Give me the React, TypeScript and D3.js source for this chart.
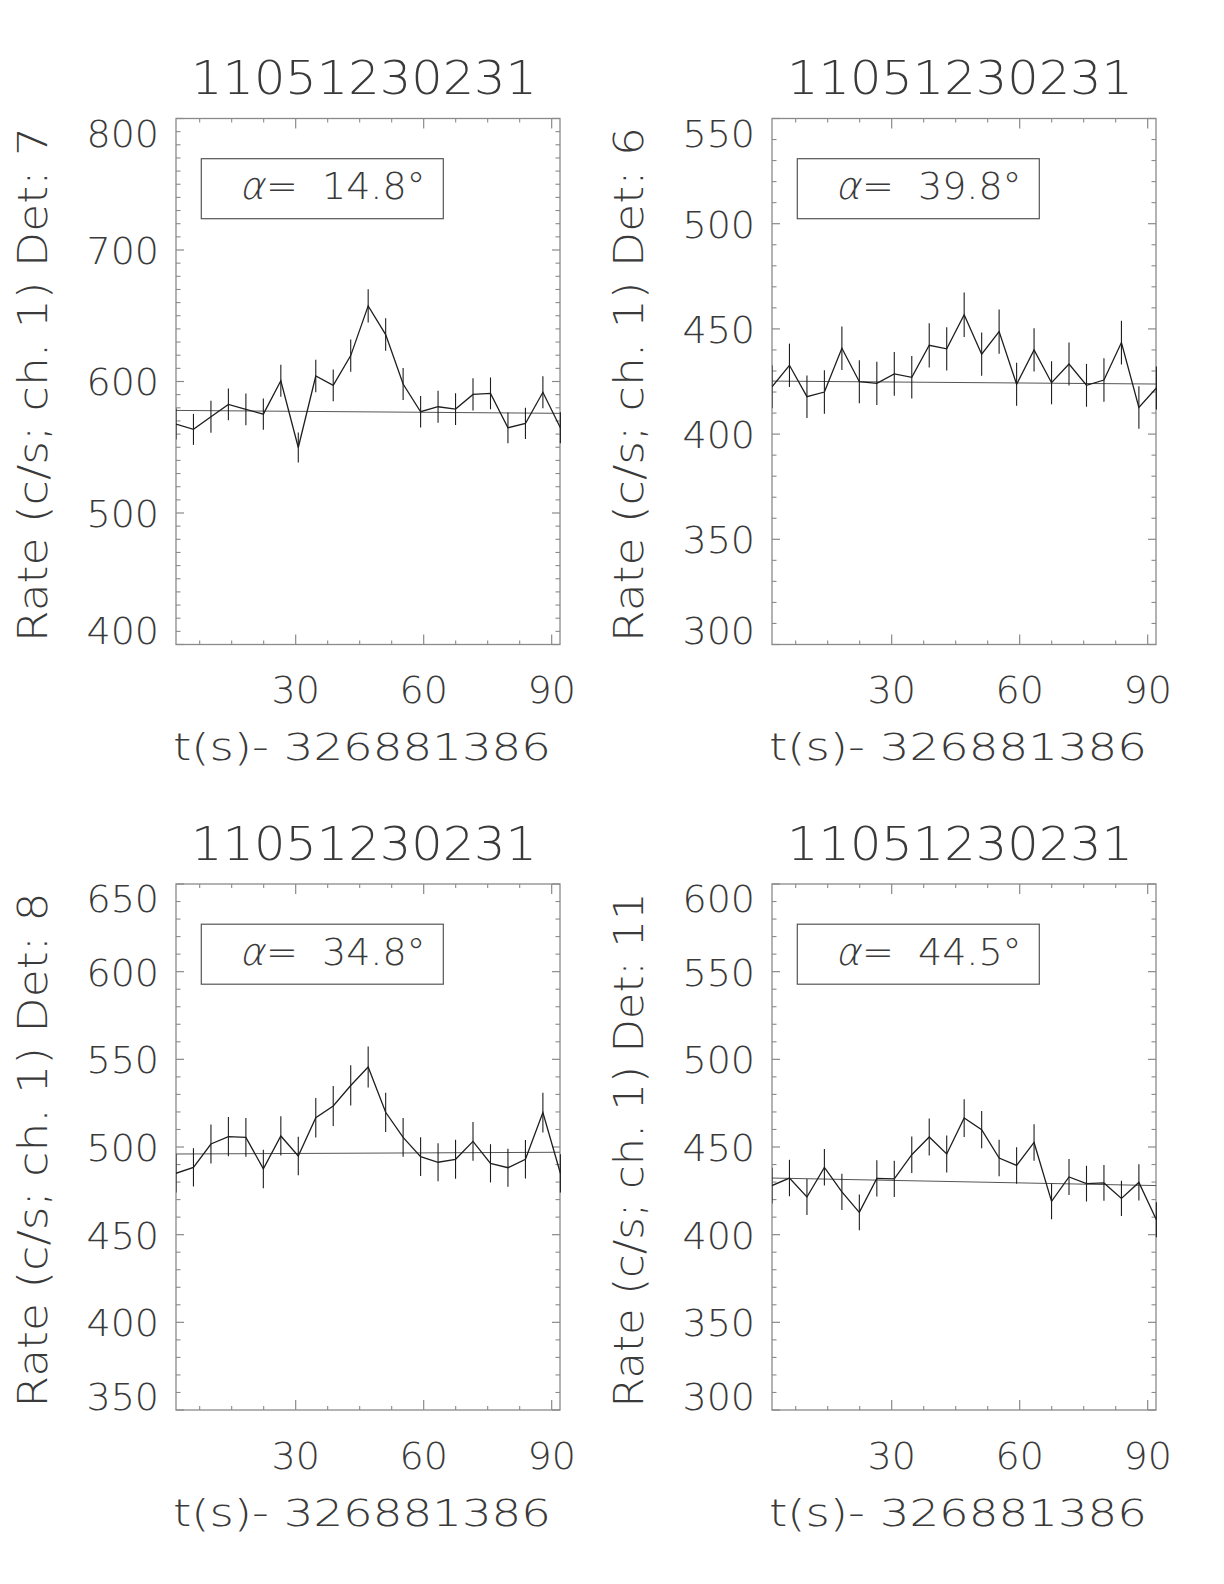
import React from "react";
import * as d3 from "d3";

// ---- data ----
const times = [1.95, 6.04, 10.14, 14.23, 18.33, 22.42, 26.52, 30.61, 34.71, 38.8, 42.9, 46.99, 51.09, 55.18, 59.28, 63.37, 67.47, 71.56, 75.66, 79.75, 83.85, 87.94, 92.04];

const titles = ["11051230231", "11051230231", "11051230231", "11051230231"];
const detectors = ["7", "6", "8", "11"];
const alphas = ["14.8", "39.8", "34.8", "44.5"];
const xTitle = "t(s)- 326881386";

const rate7 = [567.6, 563.6, 573.2, 582.6, 578.8, 575.2, 600.6, 549.8, 604.2, 597.1, 619.7, 657.5, 635.7, 598.1, 577.0, 580.8, 579.0, 590.2, 591.0, 564.8, 568.1, 591.8, 564.8];
const err7 = [11.8, 11.8, 12.1, 12.1, 12.1, 11.9, 12.2, 11.4, 12.4, 12.1, 12.3, 12.7, 12.4, 12.1, 11.9, 12.1, 12.1, 12.2, 12.1, 11.7, 11.9, 12.1, 11.8];
const bkg7 = [578.0, 575.8];

const rate6 = [422.5, 432.7, 417.8, 420.0, 440.8, 424.9, 424.1, 428.6, 427.0, 442.2, 440.5, 456.7, 438.0, 448.7, 423.7, 440.0, 424.4, 433.3, 423.2, 425.7, 443.5, 412.7, 421.9];
const err6 = [10.2, 10.3, 10.1, 10.3, 10.3, 10.2, 10.3, 10.4, 10.1, 10.5, 10.3, 10.6, 10.3, 10.5, 10.2, 10.3, 10.2, 10.2, 10.2, 10.3, 10.4, 10.1, 10.2];
const bkg6 = [425.2, 423.8];

const rate8 = [485.0, 488.4, 501.7, 505.9, 505.5, 487.5, 506.3, 494.9, 516.7, 523.4, 535.1, 545.6, 519.8, 505.5, 494.5, 491.3, 493.0, 503.2, 490.7, 488.2, 493.0, 519.6, 485.0];
const err8 = [10.9, 10.9, 11.1, 11.2, 11.1, 11.0, 11.2, 11.0, 11.3, 11.4, 11.5, 11.7, 11.2, 11.0, 11.1, 10.9, 11.1, 11.1, 10.9, 10.8, 11.0, 11.4, 10.9];
const bkg8 = [496.0, 497.0];

const rate11 = [428.0, 432.3, 421.5, 438.4, 424.4, 412.7, 432.1, 431.8, 445.6, 455.7, 446.0, 466.5, 459.9, 443.7, 439.5, 452.6, 419.0, 432.9, 429.1, 429.5, 420.7, 429.8, 408.5];
const err11 = [10.2, 10.4, 10.3, 10.4, 10.4, 10.2, 10.3, 10.3, 10.4, 10.5, 10.6, 10.8, 10.6, 10.4, 10.4, 10.4, 10.2, 10.3, 10.2, 10.2, 10.1, 10.3, 10.0];
const bkg11 = [432.3, 428.0];

const yDomains = [[400, 800], [300, 550], [350, 650], [300, 600]];
const yMajor = [100, 50, 50, 50];
const yMinor = [10, 10, 10, 10];
const xDomain = [1.95, 91.95];
const xMajorTicks = [30, 60, 90];
const xMinorStep = 7.5;

const rates = [rate7, rate6, rate8, rate11];
const errs = [err7, err6, err8, err11];
const bkgs = [bkg7, bkg6, bkg8, bkg11];

// ---- layout ----
const W = 1224, H = 1584;
const colX = [176, 772];
const rowY = [118.5, 884];
const PW = 384, PH = 526;
const FONT = "'DejaVu Sans', 'Liberation Sans', sans-serif";
const TXT = "#3a3a3a";
const AX = "#8a8a8a";
const LINE = "#1e1e1e";

function Panel({ idx }: { idx: number }) {
  const left = colX[idx % 2];
  const top = rowY[Math.floor(idx / 2)];
  const right = left + PW;
  const bottom = top + PH;
  const x = d3.scaleLinear().domain(xDomain).range([left, right]);
  const y = d3.scaleLinear().domain(yDomains[idx]).range([bottom, top]);
  const r = rates[idx];
  const e = errs[idx];
  const b = bkgs[idx];
  const pts: [number, number][] = times.map((t, i) => [t, r[i]]);
  const line = d3.line<[number, number]>().x((d) => x(d[0])).y((d) => y(d[1]));
  const [y0, y1] = yDomains[idx];
  const majors = d3.range(y0, y1 + 0.001, yMajor[idx]);
  const minors = d3.range(y0, y1 + 0.001, yMinor[idx]).filter((v) => !majors.includes(v));
  const xMinors = d3.range(xMinorStep, xDomain[1], xMinorStep).filter((v) => !xMajorTicks.includes(v) && v > xDomain[0]);
  const clipId = `clip${idx}`;
  const fs = 38;
  const cap = fs * 0.729;
  const ay = top + 80.5;
  const ax = left + 63;
  return (
    <g>
      <defs>
        <clipPath id={clipId}>
          <rect x={left} y={top - 20} width={PW + 1} height={PH + 40} />
        </clipPath>
      </defs>
      {/* title */}
      <text x={(left + right) / 2 - 4} y={top - 24.5} textAnchor="middle" fontFamily={FONT} fontWeight={200} fontSize={47} fill={TXT} textLength={346} lengthAdjust="spacingAndGlyphs">
        {titles[idx]}
      </text>
      {/* frame */}
      <rect x={left} y={top} width={PW} height={PH} fill="none" stroke={AX} strokeWidth={1.3} />
      {/* y ticks */}
      {majors.map((v) => (
        <g key={"ym" + v}>
          <line x1={left} x2={left + 8} y1={y(v)} y2={y(v)} stroke={AX} strokeWidth={1.2} />
          <line x1={right} x2={right - 8} y1={y(v)} y2={y(v)} stroke={AX} strokeWidth={1.2} />
        </g>
      ))}
      {minors.map((v) => (
        <g key={"yn" + v}>
          <line x1={left} x2={left + 4.5} y1={y(v)} y2={y(v)} stroke={AX} strokeWidth={1.1} />
          <line x1={right} x2={right - 4.5} y1={y(v)} y2={y(v)} stroke={AX} strokeWidth={1.1} />
        </g>
      ))}
      {/* x ticks */}
      {xMajorTicks.map((v) => (
        <g key={"xm" + v}>
          <line x1={x(v)} x2={x(v)} y1={bottom} y2={bottom - 10} stroke={AX} strokeWidth={1.2} />
          <line x1={x(v)} x2={x(v)} y1={top} y2={top + 10} stroke={AX} strokeWidth={1.2} />
        </g>
      ))}
      {xMinors.map((v) => (
        <g key={"xn" + v}>
          <line x1={x(v)} x2={x(v)} y1={bottom} y2={bottom - 4} stroke={AX} strokeWidth={1.1} />
          <line x1={x(v)} x2={x(v)} y1={top} y2={top + 4} stroke={AX} strokeWidth={1.1} />
        </g>
      ))}
      {/* y tick labels */}
      {majors.map((v, i) => {
        let base = y(v) + cap / 2;
        if (i === 0) base = bottom - 0.5;
        if (i === majors.length - 1) base = top + cap + 0.5;
        return (
          <text key={"yl" + v} x={left - 17} y={base} textAnchor="end" fontFamily={FONT} fontWeight={200} fontSize={fs} fill={TXT}>
            {String(v)}
          </text>
        );
      })}
      {/* x tick labels */}
      {xMajorTicks.map((v) => (
        <text key={"xl" + v} x={x(v)} y={bottom + 58.5} textAnchor="middle" fontFamily={FONT} fontWeight={200} fontSize={fs} fill={TXT}>
          {String(v)}
        </text>
      ))}
      {/* x title */}
      <text x={(left + right) / 2 - 6} y={bottom + 115.5} textAnchor="middle" fontFamily={FONT} fontWeight={200} fontSize={fs} fill={TXT} textLength={378} lengthAdjust="spacingAndGlyphs">
        {xTitle}
      </text>
      {/* y title */}
      <text transform={`translate(${left - 129},${(top + bottom) / 2 + 3}) rotate(-90)`} textAnchor="middle" fontFamily={FONT} fontWeight={200} fontSize={40} fill={TXT} textLength={515} lengthAdjust="spacingAndGlyphs">
        {`Rate (c/s; ch. 1) Det: ${detectors[idx]}`}
      </text>
      {/* alpha box */}
      <rect x={left + 25.3} y={top + 40.2} width={242} height={60} fill="none" stroke="#555" strokeWidth={1.2} />
      <text transform={`translate(${ax},${ay}) skewX(-14)`} x={0} y={0} fontFamily={FONT} fontWeight={200} fontSize={fs} fill={TXT}>
        α
      </text>
      <text y={ay} fontFamily={FONT} fontWeight={200} fontSize={fs} fill={TXT}>
        <tspan x={left + 90}>=</tspan>
        <tspan x={left + 146}>{`${alphas[idx]}°`}</tspan>
      </text>
      <g clipPath={`url(#${clipId})`}>
        {/* background */}
        <line x1={x(xDomain[0])} x2={x(xDomain[1])} y1={y(b[0])} y2={y(b[1])} stroke="#555" strokeWidth={1} />
        {/* error bars */}
        {pts.map((p, i) => (
          <line key={"e" + i} x1={x(p[0])} x2={x(p[0])} y1={y(p[1] - e[i])} y2={y(p[1] + e[i])} stroke={LINE} strokeWidth={1.1} />
        ))}
        {/* data line */}
        <path d={line(pts) || ""} fill="none" stroke={LINE} strokeWidth={1.3} />
      </g>
    </g>
  );
}

export default function App() {
  return (
    <svg width={W} height={H} viewBox={`0 0 ${W} ${H}`} style={{ position: "absolute", left: 0, top: 0, background: "#fff" }}>
      <rect x={0} y={0} width={W} height={H} fill="#fff" />
      {[0, 1, 2, 3].map((i) => (
        <Panel key={i} idx={i} />
      ))}
    </svg>
  );
}
